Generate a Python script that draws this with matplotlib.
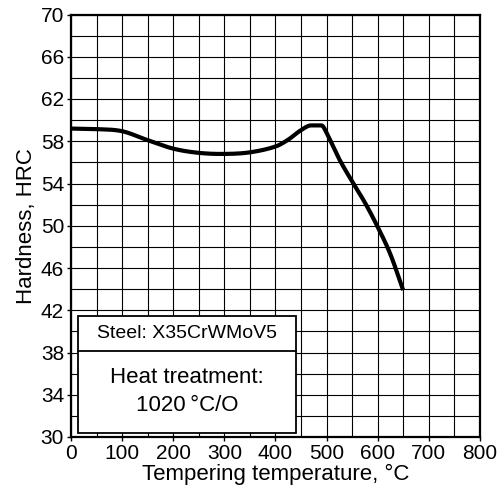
import matplotlib
matplotlib.use("Agg")
import matplotlib.pyplot as plt
import numpy as np

# tempering curve
temp = [0, 50, 100, 150, 200, 250, 300, 350, 400, 425, 450, 470, 490, 500, 525, 550, 575, 600, 625, 650]
hrc = [59.2, 59.15, 58.95, 58.1, 57.3, 56.9, 56.8, 56.95, 57.5, 58.15, 59.05, 59.5, 59.5, 58.8, 56.3, 54.2, 52.2, 49.9, 47.3, 43.9]

xticks = [0, 100, 200, 300, 400, 500, 600, 700, 800]
yticks = [30, 34, 38, 42, 46, 50, 54, 58, 62, 66, 70]

plt.rcParams['font.family'] = ['Liberation Sans', 'DejaVu Sans']

fig = plt.figure(figsize=(5.04, 5.0), dpi=100)
ax = fig.add_axes([0.141, 0.126, 0.811, 0.845])

# smooth the hand-read points (cubic hermite, flat at the peak)
xs = np.array(temp, dtype=float)
ys = np.array(hrc, dtype=float)
n = len(xs)
slopes = np.zeros(n)
for i in range(n):
    a, b = max(i - 1, 0), min(i + 1, n - 1)
    slopes[i] = (ys[b] - ys[a]) / (xs[b] - xs[a])
slopes[11] = 0.0
slopes[12] = 0.0
xf, yf = [], []
for i in range(n - 1):
    x0, x1 = xs[i], xs[i + 1]
    y0, y1 = ys[i], ys[i + 1]
    m0, m1 = slopes[i], slopes[i + 1]
    if i == 12:
        m1 = (ys[14] - ys[13]) / (xs[14] - xs[13])
    h = x1 - x0
    t = np.linspace(0, 1, 20)
    h00 = 2*t**3 - 3*t**2 + 1
    h10 = t**3 - 2*t**2 + t
    h01 = -2*t**3 + 3*t**2
    h11 = t**3 - t**2
    xf.extend(x0 + t * h)
    yf.extend(h00*y0 + h10*h*m0 + h01*y1 + h11*h*m1)

ax.plot(xf, yf, color="black", linewidth=3, solid_capstyle="butt", zorder=3)

ax.set_xlim(0, 800)
ax.set_ylim(30, 70)
ax.set_xticks(xticks)
ax.set_yticks(yticks)
ax.set_xticks(np.arange(0, 801, 50), minor=True)
ax.set_yticks(np.arange(30, 71, 2), minor=True)
ax.grid(which="both", color="black", linewidth=0.8)
ax.tick_params(which="major", direction="out", length=3, width=1, labelsize=15, pad=2)
ax.tick_params(which="minor", length=0)
for s in ax.spines.values():
    s.set_linewidth(1.6)

ax.set_xlabel("Tempering temperature, °C", fontsize=16, labelpad=1)
ax.set_ylabel("Hardness, HRC", fontsize=16, labelpad=3)

# info box
ax.fill([14, 440, 440, 14], [30.4, 30.4, 41.5, 41.5], facecolor="white", edgecolor="black", linewidth=1.3, zorder=4)
ax.plot([14, 440], [38.1, 38.1], color="black", linewidth=1.3, zorder=5)
ax.text(227, 39.8, "Steel: X35CrWMoV5", ha="center", va="center", fontsize=14, zorder=6)
ax.text(227, 35.6, "Heat treatment:", ha="center", va="center", fontsize=16, zorder=6)
ax.text(227, 33.0, "1020\u2009°C/O", ha="center", va="center", fontsize=16, zorder=6)

fig.savefig("out.png", dpi=100)
